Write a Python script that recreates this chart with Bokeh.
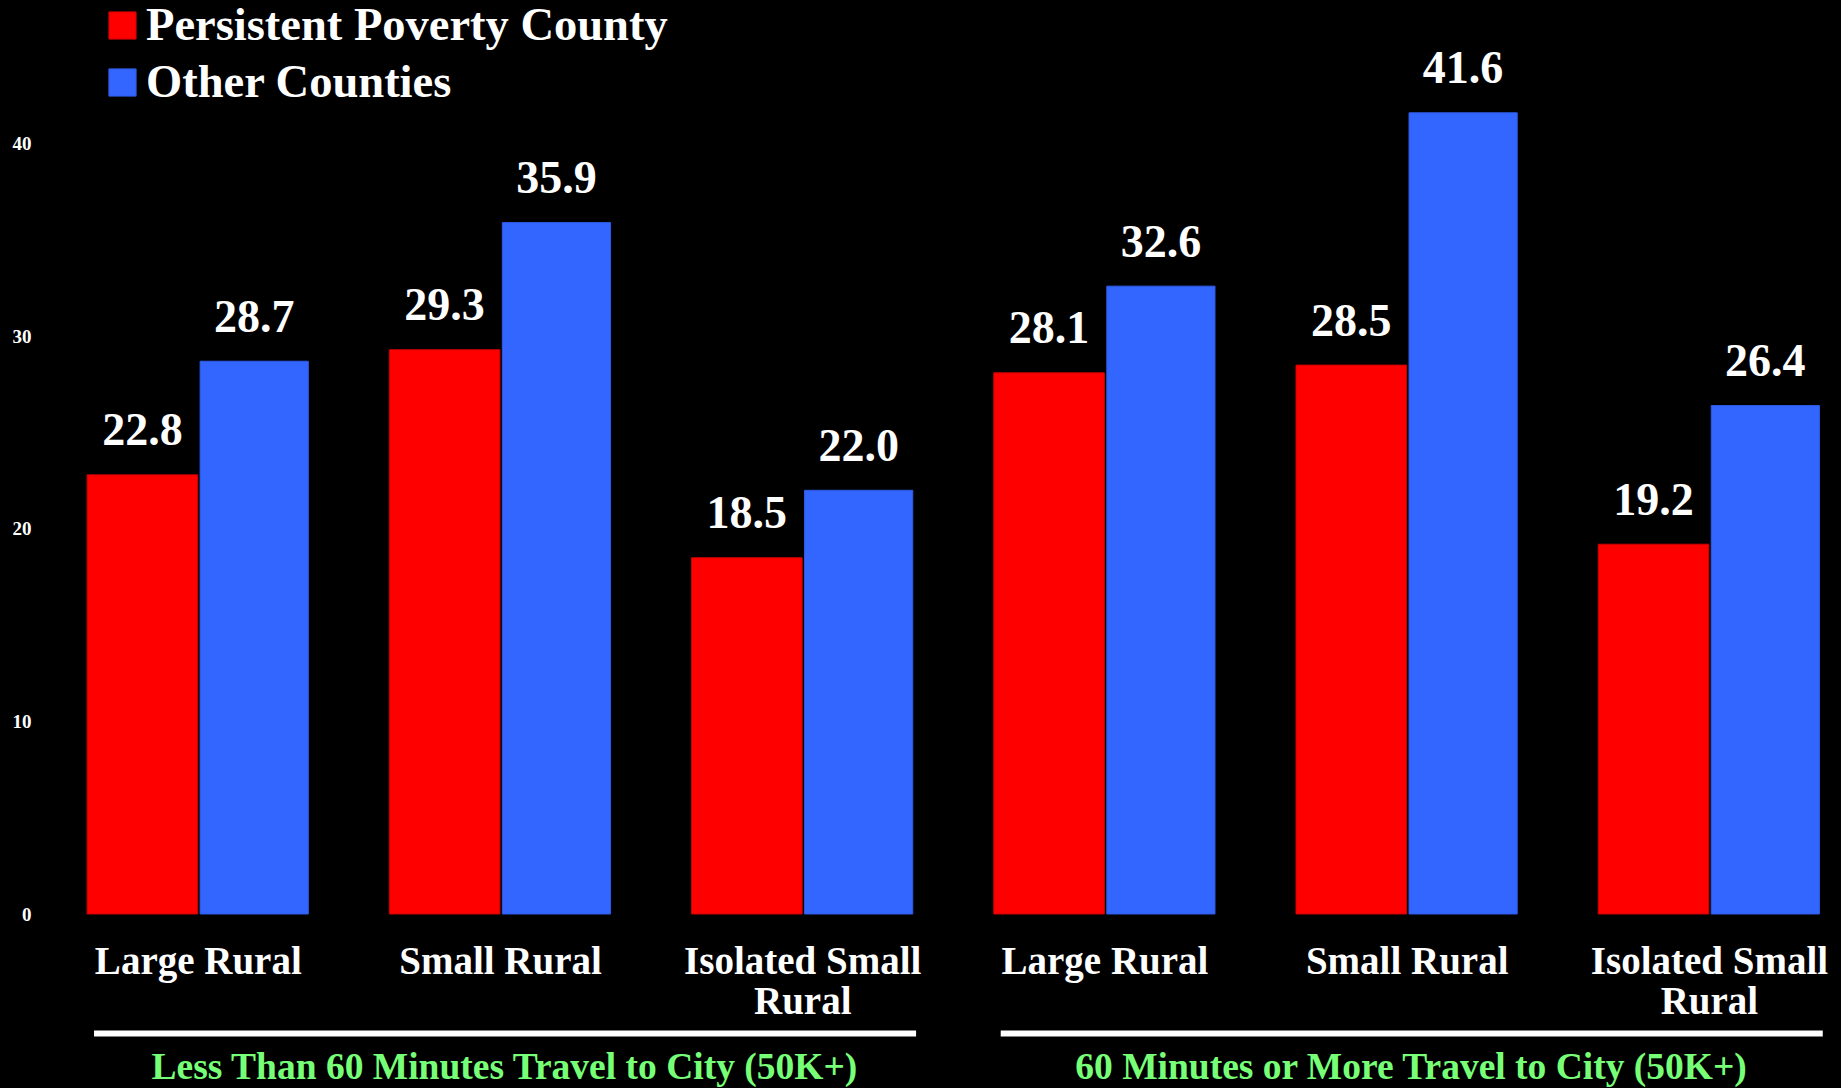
from bokeh.plotting import figure
from bokeh.models import Range1d, FixedTicker, Legend, LegendItem, ColumnDataSource
from bokeh.embed import file_html
from bokeh.resources import INLINE
from bokeh.core.properties import value

# ---- data ----
categories = ["Large Rural", "Small Rural", "Isolated Small\nRural",
              "Large Rural", "Small Rural", "Isolated Small\nRural"]
group_labels = ["Less Than 60 Minutes Travel to City (50K+)",
                "60 Minutes or More Travel to City (50K+)"]
group_members = [[0, 1, 2], [3, 4, 5]]
series_names = ["Persistent Poverty County", "Other Counties"]
persistent = [22.8, 29.3, 18.5, 28.1, 28.5, 19.2]
other = [28.7, 35.9, 22.0, 32.6, 41.6, 26.4]
y_ticks = [0, 10, 20, 30, 40]

RED = "#FF0000"
BLUE = "#3366FF"
GREEN = "#77FF77"
FONT = "Liberation Serif"

W, H = 1841, 1088
p = figure(width=W, height=H, output_backend="svg", toolbar_location=None,
           x_range=Range1d(-0.499, 5.437), y_range=Range1d(-9.06, 47.43),
           background_fill_color="black", border_fill_color="black",
           min_border_left=47, min_border_right=0, min_border_top=0, min_border_bottom=0)
p.outline_line_color = None
p.xgrid.visible = False
p.ygrid.visible = False
p.xaxis.visible = False

ya = p.yaxis[0]
ya.ticker = FixedTicker(ticks=y_ticks)
ya.axis_line_color = None
ya.major_tick_line_color = None
ya.minor_tick_line_color = None
ya.major_tick_out = 0
ya.major_tick_in = 0
ya.minor_tick_out = 0
ya.minor_tick_in = 0
ya.major_label_text_color = "white"
ya.major_label_text_font = FONT
ya.major_label_text_font_style = "bold"
ya.major_label_text_font_size = "19px"
ya.major_label_standoff = 16

idx = list(range(len(categories)))
off = 0.185
src = ColumnDataSource(dict(
    xr=[i - off for i in idx], xb=[i + off for i in idx],
    pv=persistent, ov=other,
    pt=[f"{v:.1f}" for v in persistent], ot=[f"{v:.1f}" for v in other],
))

r1 = p.vbar(x="xr", top="pv", bottom=0, width=0.366, source=src,
            fill_color=RED, line_color="#CC0000", line_width=1)
r2 = p.vbar(x="xb", top="ov", bottom=0, width=0.358, source=src,
            fill_color=BLUE, line_color="#2E5BE6", line_width=1)

for xcol, ycol, tcol in (("xr", "pv", "pt"), ("xb", "ov", "ot")):
    p.text(x=xcol, y=ycol, text=tcol, source=src, y_offset=-45,
           text_align="center", text_baseline="alphabetic",
           text_color="white", text_font=value(FONT), text_font_style="bold",
           text_font_size="46px")

# category labels (possibly two lines)
line1 = [c.split("\n")[0] for c in categories]
line2 = [c.split("\n")[1] if "\n" in c else "" for c in categories]
p.text(x=idx, y=[-2.41] * len(idx), text=line1, text_align="center",
       text_baseline="middle", text_color="white", text_font=value(FONT),
       text_font_style="bold", text_font_size="39px")
p.text(x=idx, y=[-4.49] * len(idx), text=line2, text_align="center",
       text_baseline="middle", text_color="white", text_font=value(FONT),
       text_font_style="bold", text_font_size="39px")

# group separators and labels
gc = [sum(m) / len(m) + 0.015 for m in group_members]
p.segment(x0=[c - 1.36 for c in gc], x1=[c + 1.36 for c in gc],
          y0=[-6.2] * 2, y1=[-6.2] * 2, line_color="white", line_width=6)
p.text(x=gc, y=[-7.92] * 2, text=group_labels, text_align="center",
       text_baseline="middle", text_color=GREEN, text_font=value(FONT),
       text_font_style="bold", text_font_size="37.5px")

legend = Legend(items=[LegendItem(label=series_names[0], renderers=[r1]),
                       LegendItem(label=series_names[1], renderers=[r2])],
                location=(58, 980), orientation="vertical",
                glyph_width=34, glyph_height=34, label_standoff=7,
                padding=0, margin=0, spacing=4,
                label_text_font=FONT, label_text_font_style="bold",
                label_text_font_size="46.5px", label_text_color="white",
                background_fill_alpha=0, border_line_alpha=0)
p.add_layout(legend)

html = file_html(p, INLINE)
html = html.replace("</head>", "<style>html,body{background:#000000;}</style></head>", 1)
open("out.html", "w").write(html)
